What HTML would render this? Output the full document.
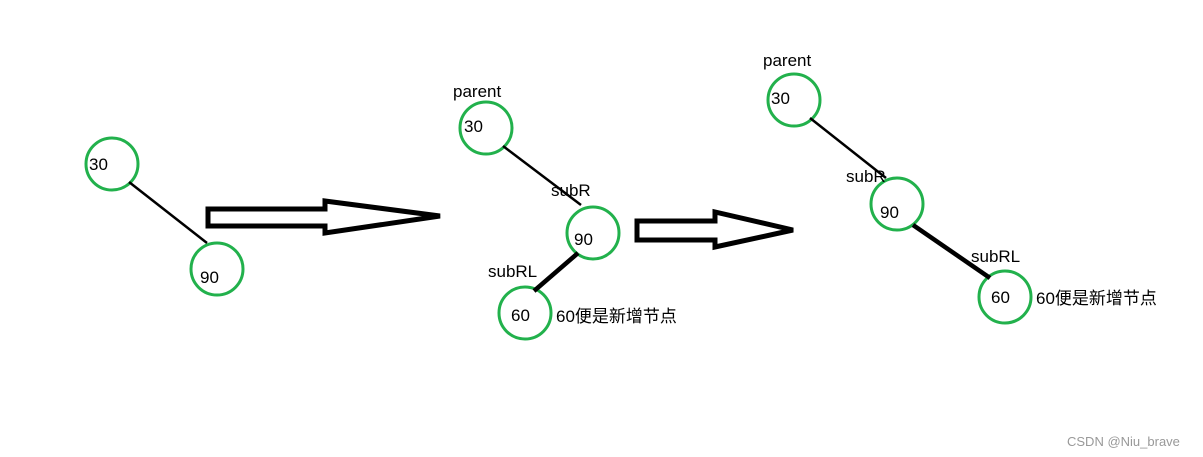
<!DOCTYPE html>
<html><head><meta charset="utf-8"><style>
html,body{margin:0;padding:0;background:#fff;}
svg{display:block;}
text{font-family:"Liberation Sans","Noto Sans CJK SC",sans-serif;font-size:17px;fill:#000;}
</style></head><body>
<svg width="1203" height="457" viewBox="0 0 1203 457" xmlns="http://www.w3.org/2000/svg">
<g fill="none" stroke="#22b14c" stroke-width="3">
<circle cx="112" cy="164" r="26"/>
<circle cx="217" cy="269" r="26"/>
<circle cx="486" cy="128" r="26"/>
<circle cx="593" cy="233" r="26"/>
<circle cx="525" cy="313" r="26"/>
<circle cx="794" cy="100" r="26"/>
<circle cx="897" cy="204" r="26"/>
<circle cx="1005" cy="297" r="26"/>
</g>
<g stroke="#000" fill="none">
<line x1="129" y1="182" x2="207" y2="243" stroke-width="2.5"/>
<line x1="503" y1="146" x2="581" y2="205" stroke-width="2.5"/>
<line x1="578" y1="253" x2="534" y2="291" stroke-width="4.5"/>
<line x1="810" y1="118" x2="886" y2="178" stroke-width="2.5"/>
<line x1="913" y1="225" x2="990" y2="278" stroke-width="4.5"/>
<polygon points="208,209 325,209 325,201 440,216 325,233 325,226 208,226" stroke-width="5" stroke-linejoin="miter"/>
<polygon points="637,221 715,221 715,212 793,230 715,247 715,240 637,240" stroke-width="5"/>
</g>
<text x="89" y="170">30</text>
<text x="200" y="283">90</text>
<text x="453" y="97">parent</text>
<text x="464" y="132">30</text>
<text x="551" y="196">subR</text>
<text x="574" y="245">90</text>
<text x="488" y="277">subRL</text>
<text x="511" y="321">60</text>
<text x="556" y="322">60便是新增节点</text>
<text x="763" y="66">parent</text>
<text x="771" y="104">30</text>
<text x="846" y="182">subR</text>
<text x="880" y="218">90</text>
<text x="971" y="262">subRL</text>
<text x="991" y="303">60</text>
<text x="1036" y="304">60便是新增节点</text>
<text x="1067" y="446" style="font-size:13px;fill:#999">CSDN @Niu_brave</text>
</svg>
</body></html>
